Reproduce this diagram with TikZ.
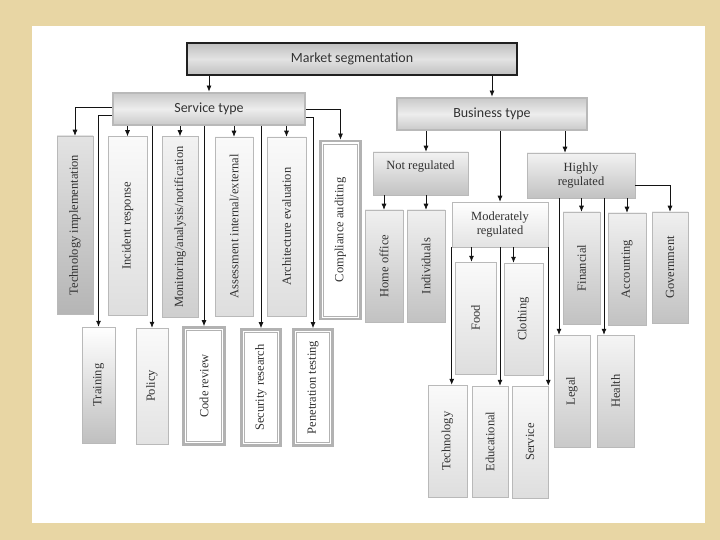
\documentclass[tikz,border=0pt]{standalone}
\usepackage{fontspec}
\setmainfont{Liberation Serif}
\newfontfamily\headfont{Carlito}
\usepackage{graphicx}
\usetikzlibrary{arrows.meta,calc}
\definecolor{parchment}{RGB}{232,214,164}
\definecolor{inkgray}{RGB}{50,50,50}

\begin{document}
\begin{tikzpicture}[
        x=1pt, y=-1pt,
        font=\fontsize{12.5}{14}\selectfont, text=inkgray,
        head/.style={draw=gray!25!black, line width=2.8pt, top color=gray!50, bottom color=gray!50, middle color=gray!22, font=\headfont\fontsize{14}{16}\selectfont, inner sep=0pt},
        branch/.style={draw=gray!55, line width=2.8pt, top color=gray!42, bottom color=gray!42, middle color=gray!14, font=\headfont\fontsize{14}{16}\selectfont, inner sep=0pt},
        group/.style={draw=gray!55, line width=0.6pt, top color=gray!10, bottom color=gray!48, align=center, inner sep=0pt},
        tallbox/.style={draw=gray!55, line width=0.5pt, top color=gray!12, bottom color=gray!48, inner sep=0pt},
        pale/.style={top color=gray!4, bottom color=gray!26},
        framed/.style={draw=gray!60, line width=2.8pt, fill=white, inner sep=0pt,
            path picture={\draw[gray!60, line width=0.6pt] ([shift={(3.2pt,-3.2pt)}]path picture bounding box.north west) rectangle ([shift={(-3.2pt,3.2pt)}]path picture bounding box.south east);}},
        link/.style={-{Latex[length=6pt,width=5pt]}, draw=gray!15!black, line width=0.7pt}
    ]
        % page
        \fill[parchment] (0,0) rectangle (720,540);
        \fill[white] (32,26) rectangle (705,523);

        % top levels
        \node[head, minimum width=330pt, minimum height=32pt] (market) at (352,59) {Market segmentation};
        \node[branch, minimum width=192pt, minimum height=32pt] (service) at (209,109) {Service type};
        \node[branch, minimum width=190pt, minimum height=32pt] (business) at (492,114) {Business type};

        % service type, upper row
        \node[tallbox, top color=gray!22, bottom color=gray!58, minimum width=36pt, minimum height=178pt] (techimpl) at (75,225) {\rotatebox{90}{Technology implementation}};
        \node[tallbox, pale, minimum width=39pt, minimum height=179pt] (incident) at (127.5,226) {\rotatebox{90}{Incident response}};
        \node[tallbox, top color=gray!10, bottom color=gray!38, minimum width=36pt, minimum height=181pt] (monitor) at (180,227) {\rotatebox{90}{Monitoring/analysis/notification}};
        \node[tallbox, pale, minimum width=38pt, minimum height=179pt] (assess) at (234,226.5) {\rotatebox{90}{Assessment internal/external}};
        \node[tallbox, pale, minimum width=39pt, minimum height=179pt] (archeval) at (286.5,226.5) {\rotatebox{90}{Architecture evaluation}};
        \node[framed, minimum width=40pt, minimum height=178pt] (compliance) at (340.5,230) {\rotatebox{90}{Compliance auditing}};

        % service type, lower row
        \node[tallbox, top color=white, bottom color=gray!50, minimum width=33pt, minimum height=116pt] (training) at (98.5,385) {\rotatebox{90}{Training}};
        \node[tallbox, top color=gray!4, bottom color=gray!22, minimum width=32pt, minimum height=116pt] (policy) at (152,386) {\rotatebox{90}{Policy}};
        \node[framed, minimum width=41pt, minimum height=117pt] (codereview) at (204,386) {\rotatebox{90}{Code review}};
        \node[framed, minimum width=39pt, minimum height=116pt] (secresearch) at (261,387.5) {\rotatebox{90}{Security research}};
        \node[framed, minimum width=39pt, minimum height=116pt] (pentest) at (313,387.5) {\rotatebox{90}{Penetration testing}};

        % business type
        \node[group, text depth=16pt, minimum width=95pt, minimum height=43pt] (notreg) at (420.5,173.5) {Not regulated};
        \node[group, top color=white, bottom color=gray!22, minimum width=96pt, minimum height=45pt] (modreg) at (500,224.5) {Moderately\\regulated};
        \node[group, minimum width=108pt, minimum height=45pt] (highreg) at (581,175.5) {Highly\\regulated};

        \node[tallbox, minimum width=38pt, minimum height=112pt] (homeoff) at (384,266) {\rotatebox{90}{Home office}};
        \node[tallbox, minimum width=38pt, minimum height=112pt] (indiv) at (426,266) {\rotatebox{90}{Individuals}};
        \node[tallbox, pale, minimum width=41pt, minimum height=112pt] (food) at (475.5,318) {\rotatebox{90}{Food}};
        \node[tallbox, pale, minimum width=39pt, minimum height=112pt] (clothing) at (523.5,319) {\rotatebox{90}{Clothing}};
        \node[tallbox, pale, minimum width=39pt, minimum height=112pt] (techno) at (447.5,441) {\rotatebox{90}{Technology}};
        \node[tallbox, pale, minimum width=36pt, minimum height=111pt] (edu) at (490,441.5) {\rotatebox{90}{Educational}};
        \node[tallbox, pale, minimum width=36pt, minimum height=112pt] (servicebiz) at (530,442) {\rotatebox{90}{Service}};
        \node[tallbox, minimum width=37pt, minimum height=112pt] (financial) at (581.5,268) {\rotatebox{90}{Financial}};
        \node[tallbox, minimum width=38pt, minimum height=112pt] (accounting) at (627,269) {\rotatebox{90}{Accounting}};
        \node[tallbox, minimum width=36pt, minimum height=111pt] (government) at (670,267.5) {\rotatebox{90}{Government}};
        \node[tallbox, top color=gray!8, bottom color=gray!42, minimum width=36pt, minimum height=112pt] (legal) at (572,391) {\rotatebox{90}{Legal}};
        \node[tallbox, top color=gray!8, bottom color=gray!42, minimum width=37pt, minimum height=112pt] (health) at (615.5,391) {\rotatebox{90}{Health}};

        % connectors, market
        \draw[link] (market.south -| service.north) -- (service.north);
        \draw[link] (market.south -| business.north) -- (business.north);

        % connectors, service type
        \draw[link] ([yshift=2pt]service.west) -| (techimpl.north);
        \draw[link] ([yshift=-6pt]service.west) -| (training.north);
        \draw[link] (service.south -| incident.north) -- (incident.north);
        \draw[link] (service.south -| policy.north) -- (policy.north);
        \draw[link] (service.south -| monitor.north) -- (monitor.north);
        \draw[link] (service.south -| codereview.north) -- (codereview.north);
        \draw[link] (service.south -| assess.north) -- (assess.north);
        \draw[link] (service.south -| secresearch.north) -- (secresearch.north);
        \draw[link] (service.south -| archeval.north) -- (archeval.north);
        \draw[link] ([yshift=-8pt]service.east) -| (pentest.north);
        \draw[link] (service.east) -| (compliance.north);

        % connectors, business type
        \coordinate (hrin) at ($(highreg.north)+(-16,0)$);
        \draw[link] (business.south -| indiv.north) -- (notreg.north -| indiv.north);
        \draw[link] (business.south -| modreg.north) -- (modreg.north);
        \draw[link] (business.south -| hrin) -- (hrin);

        \draw[link] (notreg.south -| homeoff.north) -- (homeoff.north);
        \draw[link] (notreg.south -| indiv.north) -- (indiv.north);

        \coordinate (foodin) at ($(food.north)+(-4,0)$);
        \coordinate (clothin) at ($(clothing.north)+(-10,0)$);
        \draw[link] (modreg.south -| foodin) -- (foodin);
        \draw[link] (modreg.south -| clothin) -- (clothin);
        \draw[link] (modreg.south west) -- (modreg.south west |- techno.north);
        \draw[link] (modreg.south) -- (modreg.south |- edu.north);
        \draw[link] (modreg.south east) -- (modreg.south east |- servicebiz.north);

        \coordinate (legalin) at ($(highreg.south)+(-22,0)$);
        \coordinate (healthin) at ($(highreg.south)+(23,0)$);
        \draw[link] (highreg.south -| financial.north) -- (financial.north);
        \draw[link] (highreg.south -| accounting.north) -- (accounting.north);
        \draw[link] ([yshift=-10pt]highreg.east) -| (government.north);
        \draw[link] (legalin) -- (legalin |- legal.north);
        \draw[link] (healthin) -- (healthin |- health.north);
    \end{tikzpicture}
\end{document}
